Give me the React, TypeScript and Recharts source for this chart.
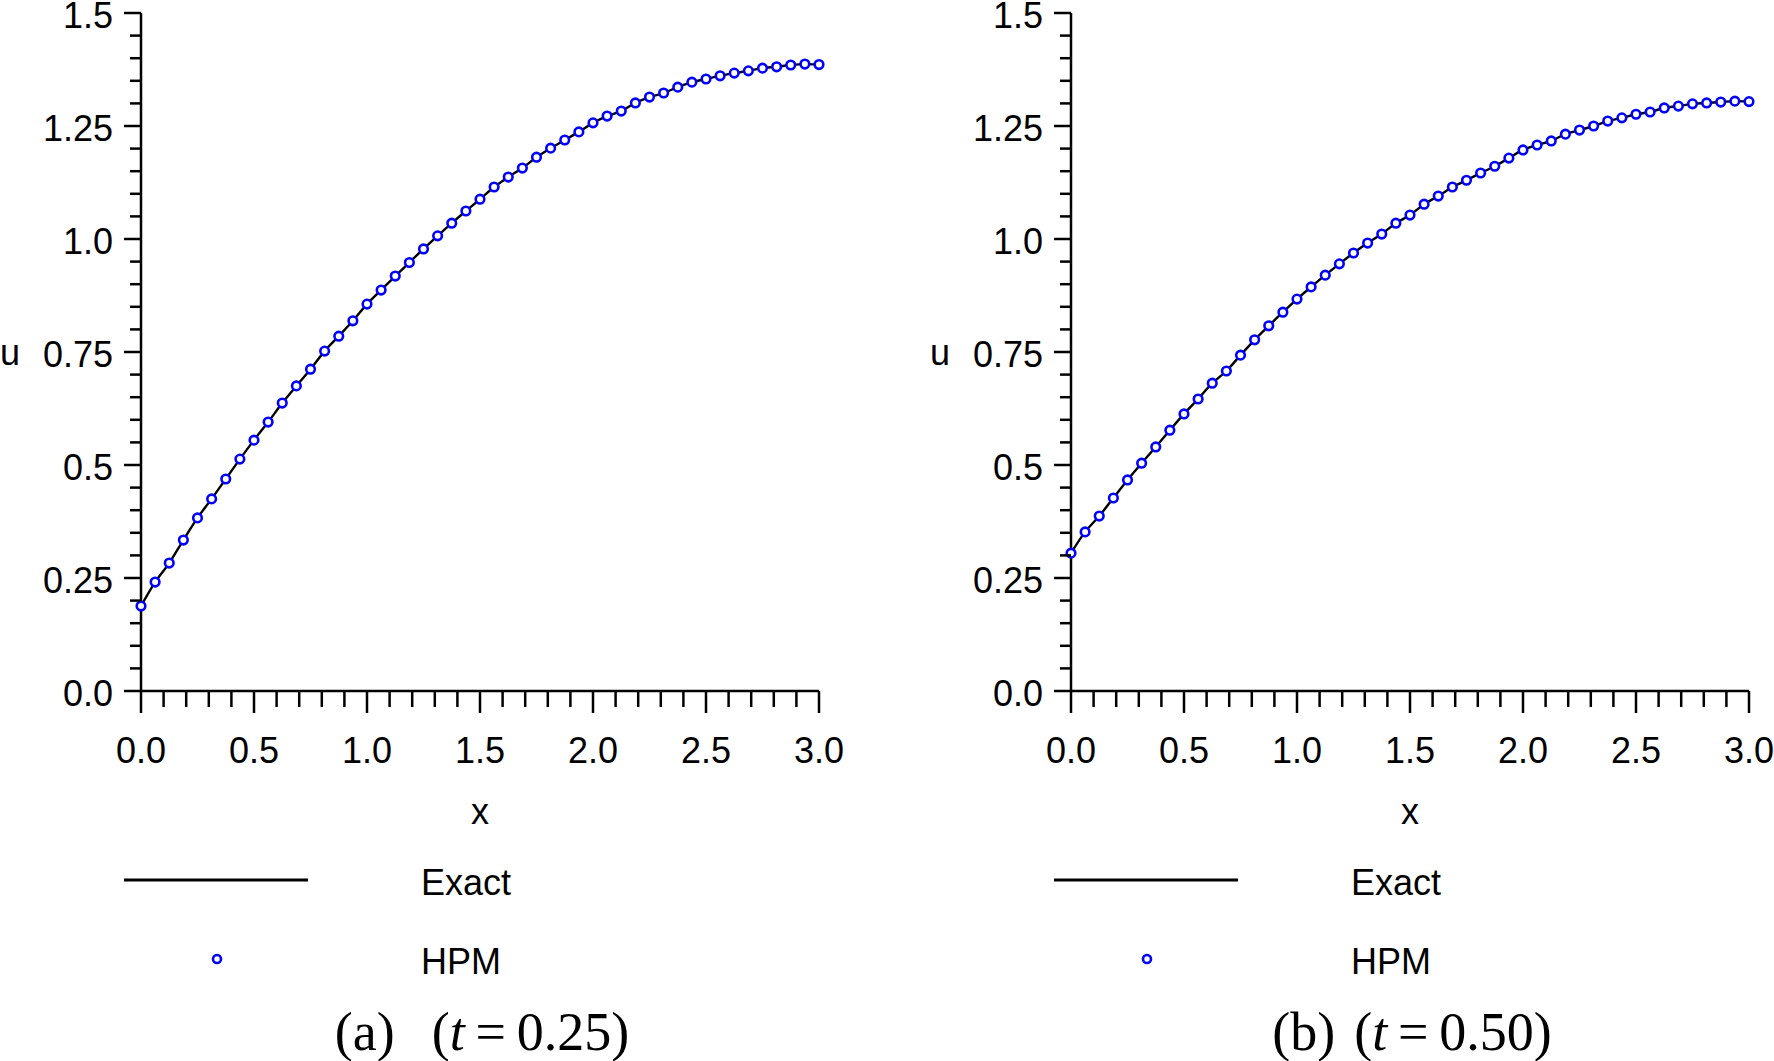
import React from "react";
import { LineChart, Line, XAxis, YAxis, Legend } from "recharts";

// x positions of the HPM markers (step 1/16)
const xValues = [
  0, 0.0625, 0.125, 0.1875, 0.25, 0.3125, 0.375, 0.4375,
  0.5, 0.5625, 0.625, 0.6875, 0.75, 0.8125, 0.875, 0.9375,
  1, 1.0625, 1.125, 1.1875, 1.25, 1.3125, 1.375, 1.4375,
  1.5, 1.5625, 1.625, 1.6875, 1.75, 1.8125, 1.875, 1.9375,
  2, 2.0625, 2.125, 2.1875, 2.25, 2.3125, 2.375, 2.4375,
  2.5, 2.5625, 2.625, 2.6875, 2.75, 2.8125, 2.875, 2.9375,
  3,
];

// u(x) at t = 0.25
const uT025 = [
  0.188, 0.241, 0.283, 0.334, 0.383, 0.425, 0.469, 0.513,
  0.555, 0.595, 0.637, 0.675, 0.712, 0.752, 0.785, 0.819,
  0.856, 0.887, 0.918, 0.948, 0.978, 1.007, 1.035, 1.062,
  1.088, 1.115, 1.137, 1.157, 1.181, 1.201, 1.219, 1.237,
  1.257, 1.272, 1.283, 1.301, 1.314, 1.323, 1.336, 1.347,
  1.354, 1.361, 1.367, 1.372, 1.378, 1.381, 1.385, 1.387,
  1.386,
];

// u(x) at t = 0.50
const uT050 = [
  0.305, 0.352, 0.387, 0.427, 0.467, 0.504, 0.54, 0.577,
  0.613, 0.646, 0.681, 0.708, 0.743, 0.777, 0.808, 0.838,
  0.867, 0.894, 0.92, 0.945, 0.969, 0.991, 1.011, 1.035,
  1.053, 1.077, 1.095, 1.115, 1.13, 1.146, 1.161, 1.179,
  1.197, 1.208, 1.217, 1.232, 1.241, 1.25, 1.261, 1.268,
  1.276, 1.281, 1.29, 1.294, 1.299, 1.301, 1.303, 1.305,
  1.304,
];

const xMajor = [0, 0.5, 1, 1.5, 2, 2.5, 3];
const xTickLabels = ["0.0", "0.5", "1.0", "1.5", "2.0", "2.5", "3.0"];
const yMajor = [0, 0.25, 0.5, 0.75, 1, 1.25, 1.5];
const yTickLabels = ["0.0", "0.25", "0.5", "0.75", "1.0", "1.25", "1.5"];

// minor ticks every 0.1 (x) and 0.05 (u)
const xTicks = Array.from({ length: 31 }, (_, i) => +(i * 0.1).toFixed(2));
const yTicks = Array.from({ length: 31 }, (_, i) => +(i * 0.05).toFixed(2));

const SANS = "'Liberation Sans', Arial, sans-serif";
const SERIF = "'Liberation Serif', 'Times New Roman', serif";
const BLUE = "#0000ff";

const CHART_W = 844;
const CHART_H = 1061;

const XTick = (props: any) => {
  const { x, y, payload } = props;
  const idx = xMajor.findIndex((m) => Math.abs(m - payload.value) < 1e-6);
  const major = idx >= 0;
  return (
    <g>
      <line x1={x} x2={x} y1={y} y2={y + (major ? 22 : 16)} stroke="#000" strokeWidth={2.5} />
      {major && (
        <text x={x} y={y + 72} textAnchor="middle" fontSize={36} fontFamily={SANS} fill="#000">
          {xTickLabels[idx]}
        </text>
      )}
    </g>
  );
};

const YTick = (props: any) => {
  const { x, y, payload } = props;
  const idx = yMajor.findIndex((m) => Math.abs(m - payload.value) < 1e-6);
  const major = idx >= 0;
  return (
    <g>
      <line x1={x - (major ? 17 : 11)} x2={x} y1={y} y2={y} stroke="#000" strokeWidth={2.5} />
      {major && (
        <text x={x - 28} y={y + 15} textAnchor="end" fontSize={36} fontFamily={SANS} fill="#000">
          {yTickLabels[idx]}
        </text>
      )}
    </g>
  );
};

const LegendBlock = () => (
  <svg width={CHART_W} height={170} style={{ display: "block" }}>
    <line x1={124} x2={308} y1={40} y2={40} stroke="#000" strokeWidth={3} />
    <text x={421} y={55} fontSize={36} fontFamily={SANS} fill="#000">
      Exact
    </text>
    <circle cx={217} cy={119} r={4} stroke={BLUE} strokeWidth={2.6} fill="#fff" />
    <text x={421} y={134} fontSize={36} fontFamily={SANS} fill="#000">
      HPM
    </text>
  </svg>
);

interface PanelProps {
  u: number[];
  left: number;
}

const Panel: React.FC<PanelProps> = ({ u, left }) => {
  const rows = xValues.map((x, i) => ({ x, exact: u[i], hpm: u[i] }));
  return (
    <div style={{ position: "absolute", left, top: 0 }}>
      <LineChart
        width={CHART_W}
        height={CHART_H}
        data={rows}
        margin={{ top: 13, right: 25, bottom: 237, left: 0 }}
      >
        <XAxis
          dataKey="x"
          type="number"
          domain={[0, 3]}
          ticks={xTicks}
          interval={0}
          height={133}
          tickSize={0}
          tickMargin={0}
          tickLine={false}
          tick={<XTick />}
          axisLine={{ stroke: "#000", strokeWidth: 2.5 }}
          label={{ value: "x", position: "insideBottom", offset: 0, fontSize: 36, fontFamily: SANS, fill: "#000" }}
        />
        <YAxis
          type="number"
          domain={[0, 1.5]}
          ticks={yTicks}
          interval={0}
          width={141}
          tickSize={0}
          tickMargin={0}
          tickLine={false}
          tick={<YTick />}
          axisLine={{ stroke: "#000", strokeWidth: 2.5 }}
          label={{ value: "u", position: "insideLeft", offset: 0, fontSize: 36, fontFamily: SANS, fill: "#000" }}
        />
        <Line
          dataKey="exact"
          type="monotone"
          stroke="#000"
          strokeWidth={2.4}
          dot={false}
          activeDot={false}
          isAnimationActive={false}
        />
        <Line
          dataKey="hpm"
          stroke="none"
          dot={{ r: 4.3, stroke: BLUE, strokeWidth: 2.6, fill: "#fff" }}
          activeDot={false}
          isAnimationActive={false}
        />
        <Legend
          layout="vertical"
          align="center"
          verticalAlign="middle"
          wrapperStyle={{ position: "absolute", left: 0, top: 840, width: CHART_W, height: 170 }}
          content={() => <LegendBlock />}
        />
      </LineChart>
    </div>
  );
};

const Caption: React.FC<{ center: number; tag: string; gap: number; t: string }> = ({ center, tag, gap, t }) => (
  <div
    style={{
      position: "absolute",
      left: center - 250,
      width: 500,
      top: 1005,
      textAlign: "center",
      fontFamily: SERIF,
      fontSize: 54,
      lineHeight: "54px",
      color: "#000",
      whiteSpace: "pre",
    }}
  >
    {tag}
    <span style={{ marginLeft: gap }}>(</span>
    <i>t</i>
    {"\u2009=\u2009" + t + ")"}
  </div>
);

export default function App() {
  return (
    <div
      style={{
        position: "absolute",
        left: 0,
        top: 0,
        width: 1774,
        height: 1061,
        overflow: "hidden",
        background: "#fff",
      }}
    >
      <Panel u={uT025} left={0} />
      <Panel u={uT050} left={930} />
      <Caption center={482} tag="(a)" gap={37} t="0.25" />
      <Caption center={1412} tag="(b)" gap={19} t="0.50" />
    </div>
  );
}
